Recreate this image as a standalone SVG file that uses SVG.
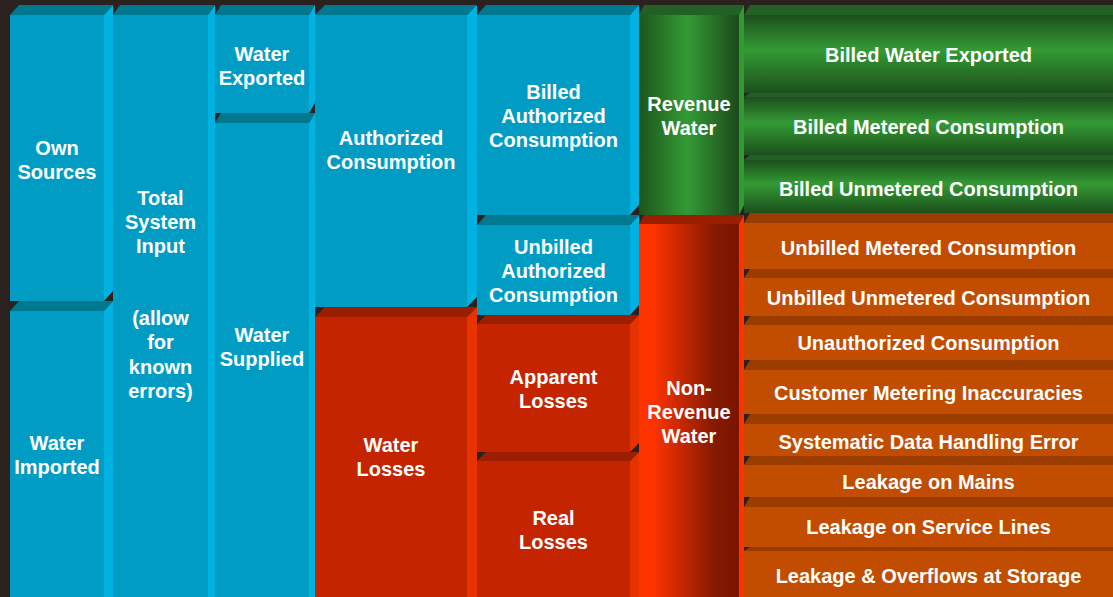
<svg xmlns="http://www.w3.org/2000/svg" width="1113" height="597" viewBox="0 0 1113 597">
<defs>
<style>
.t{font-family:"Liberation Sans",Arial,sans-serif;font-weight:bold;font-size:20px;fill:#ffffff;text-anchor:middle}
.cf{fill:#009cc4}.ct{fill:#00788f}.cs{fill:#00b2e2}
.rf{fill:#c42400}.rt{fill:#9b1e00}.rs{fill:#e83200}
.of{fill:#c24d00}.ot{fill:#9a3c00}
.gt{fill:#236023}.gs{fill:#339933}
.nt{fill:#9a1e00}.ns{fill:#ff3300}
</style>
<linearGradient id="gRow" x1="0" y1="0" x2="0" y2="1">
<stop offset="0" stop-color="#1c4f1c"/><stop offset="0.45" stop-color="#349a34"/><stop offset="1" stop-color="#1c4f1c"/>
</linearGradient>
<linearGradient id="gRev" x1="0" y1="0" x2="1" y2="0">
<stop offset="0" stop-color="#1d551d"/><stop offset="0.48" stop-color="#349a34"/><stop offset="1" stop-color="#1c4a1c"/>
</linearGradient>
<linearGradient id="gNrw" x1="0" y1="0" x2="1" y2="0">
<stop offset="0" stop-color="#ff3300"/><stop offset="0.15" stop-color="#fb3300"/><stop offset="0.75" stop-color="#851a00"/><stop offset="1" stop-color="#7a1500"/>
</linearGradient>
</defs>
<rect width="1113" height="597" fill="#2b2220"/>
<g id="connectors"/>
<!-- Column 7 -->
<g id="billed-water-exported">
<polygon class="gt" points="744,15 750,5 1119,5 1113,15"/>
<rect x="744" y="15" width="369" height="78" fill="url(#gRow)"/>
<text class="t" x="928.5" y="62">Billed Water Exported</text>
</g>
<g id="billed-metered">
<polygon class="gt" points="744,97 750,93 1119,93 1113,97"/>
<rect x="744" y="97" width="369" height="58" fill="url(#gRow)"/>
<text class="t" x="928.5" y="134">Billed Metered Consumption</text>
</g>
<g id="billed-unmetered">
<polygon class="gt" points="744,160 750,155 1119,155 1113,160"/>
<rect x="744" y="160" width="369" height="53" fill="url(#gRow)"/>
<text class="t" x="928.5" y="196">Billed Unmetered Consumption</text>
</g>
<g id="unbilled-metered">
<polygon class="ot" points="744,223 750,213 1119,213 1113,223"/>
<rect class="of" x="744" y="223" width="369" height="46"/>
<text class="t" x="928.5" y="255">Unbilled Metered Consumption</text>
</g>
<g id="unbilled-unmetered">
<polygon class="ot" points="744,278 750,269 1119,269 1113,278"/>
<rect class="of" x="744" y="278" width="369" height="38"/>
<text class="t" x="928.5" y="305">Unbilled Unmetered Consumption</text>
</g>
<g id="unauthorized">
<polygon class="ot" points="744,325 750,316 1119,316 1113,325"/>
<rect class="of" x="744" y="325" width="369" height="35"/>
<text class="t" x="928.5" y="350">Unauthorized Consumption</text>
</g>
<g id="customer-metering">
<polygon class="ot" points="744,370 750,360 1119,360 1113,370"/>
<rect class="of" x="744" y="370" width="369" height="44"/>
<text class="t" x="928.5" y="400">Customer Metering Inaccuracies</text>
</g>
<g id="systematic-data">
<polygon class="ot" points="744,424 750,414 1119,414 1113,424"/>
<rect class="of" x="744" y="424" width="369" height="32"/>
<text class="t" x="928.5" y="449">Systematic Data Handling Error</text>
</g>
<g id="leakage-mains">
<polygon class="ot" points="744,465 750,456 1119,456 1113,465"/>
<rect class="of" x="744" y="465" width="369" height="32"/>
<text class="t" x="928.5" y="489">Leakage on Mains</text>
</g>
<g id="leakage-service">
<polygon class="ot" points="744,507 750,497 1119,497 1113,507"/>
<rect class="of" x="744" y="507" width="369" height="40"/>
<text class="t" x="928.5" y="534">Leakage on Service Lines</text>
</g>
<g id="leakage-storage">
<polygon class="ot" points="744,551 750,547 1119,547 1113,551"/>
<rect class="of" x="744" y="551" width="369" height="46"/>
<text class="t" x="928.5" y="583">Leakage &amp; Overflows at Storage</text>
</g>
<!-- Column 6 -->
<g id="revenue-water">
<polygon class="gt" points="639,15 644,5 744,5 739,15"/>
<polygon class="gs" points="739,15 744,5 744,205 739,215"/>
<rect x="639" y="15" width="100" height="200" fill="url(#gRev)"/>
<text class="t" x="689" y="111">Revenue</text>
<text class="t" x="689" y="135">Water</text>
</g>
<g id="non-revenue-water">
<polygon class="nt" points="639,224 644,215 744,215 739,224"/>
<polygon class="ns" points="739,224 744,215 744,597 739,597"/>
<rect x="639" y="224" width="100" height="373" fill="url(#gNrw)"/>
<text class="t" x="689" y="395">Non-</text>
<text class="t" x="689" y="419">Revenue</text>
<text class="t" x="689" y="443">Water</text>
</g>
<!-- Column 5 -->
<g id="billed-authorized">
<polygon class="ct" points="477,15 486,5 639,5 630,15"/>
<polygon class="cs" points="630,15 639,5 639,205 630,215"/>
<rect class="cf" x="477" y="15" width="153" height="200"/>
<text class="t" x="553.5" y="99">Billed</text>
<text class="t" x="553.5" y="123">Authorized</text>
<text class="t" x="553.5" y="147">Consumption</text>
</g>
<g id="unbilled-authorized">
<polygon class="ct" points="477,225 486,215 639,215 630,225"/>
<polygon class="cs" points="630,225 639,215 639,305 630,315"/>
<rect class="cf" x="477" y="225" width="153" height="90"/>
<text class="t" x="553.5" y="254">Unbilled</text>
<text class="t" x="553.5" y="278">Authorized</text>
<text class="t" x="553.5" y="302">Consumption</text>
</g>
<g id="apparent-losses">
<polygon class="rt" points="477,324 486,315 639,315 630,324"/>
<polygon class="rs" points="630,324 639,315 639,443 630,452"/>
<rect class="rf" x="477" y="324" width="153" height="128"/>
<text class="t" x="553.5" y="384">Apparent</text>
<text class="t" x="553.5" y="408">Losses</text>
</g>
<g id="real-losses">
<polygon class="rt" points="477,461 486,452 639,452 630,461"/>
<polygon class="rs" points="630,461 639,452 639,597 630,597"/>
<rect class="rf" x="477" y="461" width="153" height="136"/>
<text class="t" x="553.5" y="525">Real</text>
<text class="t" x="553.5" y="549">Losses</text>
</g>
<!-- Column 4 -->
<g id="authorized-consumption">
<polygon class="ct" points="315,15 325,5 477,5 467,15"/>
<polygon class="cs" points="467,15 477,5 477,297 467,307"/>
<rect class="cf" x="315" y="15" width="152" height="292"/>
<text class="t" x="391" y="145">Authorized</text>
<text class="t" x="391" y="169">Consumption</text>
</g>
<g id="water-losses">
<polygon class="rt" points="315,317 325,307 477,307 467,317"/>
<polygon class="rs" points="467,317 477,307 477,597 467,597"/>
<rect class="rf" x="315" y="317" width="152" height="280"/>
<text class="t" x="391" y="452">Water</text>
<text class="t" x="391" y="476">Losses</text>
</g>
<!-- Column 3 -->
<g id="water-exported">
<polygon class="ct" points="215,15 221,5 315,5 309,15"/>
<polygon class="cs" points="309,15 315,5 315,103 309,113"/>
<rect class="cf" x="215" y="15" width="94" height="98"/>
<text class="t" x="262" y="61">Water</text>
<text class="t" x="262" y="85">Exported</text>
</g>
<g id="water-supplied">
<polygon class="ct" points="215,123 221,113 315,113 309,123"/>
<polygon class="cs" points="309,123 315,113 315,597 309,597"/>
<rect class="cf" x="215" y="123" width="94" height="474"/>
<text class="t" x="262" y="342">Water</text>
<text class="t" x="262" y="366">Supplied</text>
</g>
<!-- Column 2 -->
<g id="total-system-input">
<polygon class="ct" points="113,15 120,5 215,5 208,15"/>
<polygon class="cs" points="208,15 215,5 215,597 208,597"/>
<rect class="cf" x="113" y="15" width="95" height="582"/>
<text class="t" x="160.5" y="205">Total</text>
<text class="t" x="160.5" y="229">System</text>
<text class="t" x="160.5" y="253">Input</text>
<text class="t" x="160.5" y="325">(allow</text>
<text class="t" x="160.5" y="349">for</text>
<text class="t" x="160.5" y="374">known</text>
<text class="t" x="160.5" y="398">errors)</text>
</g>
<!-- Column 1 -->
<g id="own-sources">
<polygon class="ct" points="10,15 19,5 113,5 104,15"/>
<polygon class="cs" points="104,15 113,5 113,291 104,301"/>
<rect class="cf" x="10" y="15" width="94" height="286"/>
<text class="t" x="57" y="155">Own</text>
<text class="t" x="57" y="179">Sources</text>
</g>
<g id="water-imported">
<polygon class="ct" points="10,311 19,301 113,301 104,311"/>
<polygon class="cs" points="104,311 113,301 113,597 104,597"/>
<rect class="cf" x="10" y="311" width="94" height="286"/>
<text class="t" x="57" y="450">Water</text>
<text class="t" x="57" y="474">Imported</text>
</g>
</svg>
